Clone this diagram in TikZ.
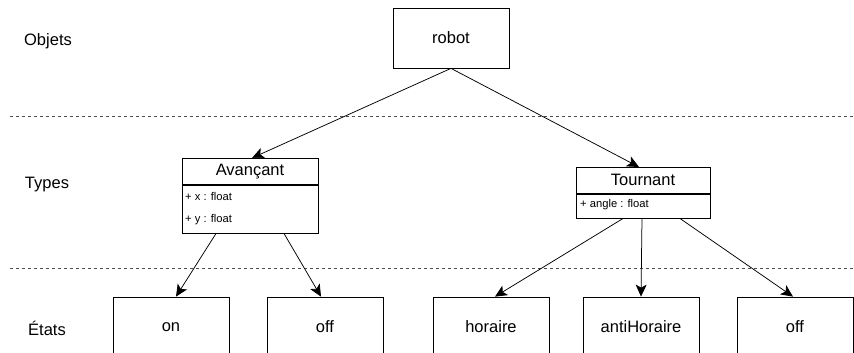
\documentclass[tikz,border=0pt]{standalone}
\usepackage{fontspec}
\setmainfont{Liberation Sans}
\usetikzlibrary{arrows.meta}
\tikzset{
  box/.style={draw, line width=0.75pt, inner sep=0pt, font=\fontsize{16.5}{19}\selectfont, minimum width=116pt, minimum height=60pt},
  hdr/.style={draw, line width=0.75pt, inner sep=0pt, font=\fontsize{16.5}{19}\selectfont, anchor=north, minimum height=26pt},
  body/.style={draw, line width=0.75pt, inner sep=0pt, anchor=north},
  attr/.style={inner sep=0pt, anchor=west, font=\fontsize{11.2}{13}\selectfont},
  lbl/.style={inner sep=0pt, font=\fontsize{16.5}{19}\selectfont},
  sep/.style={black!70, line width=0.75pt, dash pattern=on 3pt off 3pt},
  arr/.style={line width=0.75pt, -{Stealth[length=12pt,width=11pt,inset=3pt]}}
}
\begin{document}
\begin{tikzpicture}[x=1pt,y=-1pt]
\useasboundingbox (0,0) rectangle (854,353);
% lane labels
\node[lbl] (lo) at (48,41) {Objets};
\node[lbl] (lt) at (47,185) {Types};
\node[lbl] (le) at (47,328) {États};
% separators
\coordinate (s1a) at (10,116); \coordinate (s1b) at (854,116);
\coordinate (s2a) at (10,268); \coordinate (s2b) at (854,268);
\draw[sep] (s1a) -- (s1b);
\draw[sep] (s2a) -- (s2b);
% object
\node[box] (robot) at (451,38) {robot};
% types
\node[hdr, minimum width=136pt] (av) at (250,158) {Avançant};
\node[body, minimum width=136pt, minimum height=48pt] (avb) at (av.south) {};
\node[attr] (avx) at (185,196) {+ x : float};
\node[attr] (avy) at (185,220) {+ y : float};
\node[hdr, minimum width=134pt] (tou) at (643,167) {Tournant};
\node[body, minimum width=134pt, minimum height=24pt] (toub) at (tou.south) {};
\node[attr] (toua) at (580,205) {+ angle : float};
% states
\node[box] (on) at (171,327) {on};
\node[box] (offa) at (325,327) {off};
\node[box] (hor) at (491,327) {horaire};
\node[box] (anti) at (641,327) {antiHoraire};
\node[box] (offb) at (795,327) {off};
% connectors
\draw[arr] (robot.south) -- ([xshift=2pt]av.north);
\draw[arr] (robot.south) -- ([xshift=-4pt]tou.north);
\draw[arr] ([xshift=-34pt]avb.south) -- ([xshift=5pt]on.north);
\draw[arr] ([xshift=34pt]avb.south) -- ([xshift=-4pt]offa.north);
\draw[arr] ([xshift=-20pt]toub.south) -- ([xshift=4pt]hor.north);
\draw[arr] ([xshift=-1pt]toub.south) -- (anti.north);
\draw[arr] ([xshift=37pt]toub.south) -- ([xshift=-2pt]offb.north);
\end{tikzpicture}
\end{document}
